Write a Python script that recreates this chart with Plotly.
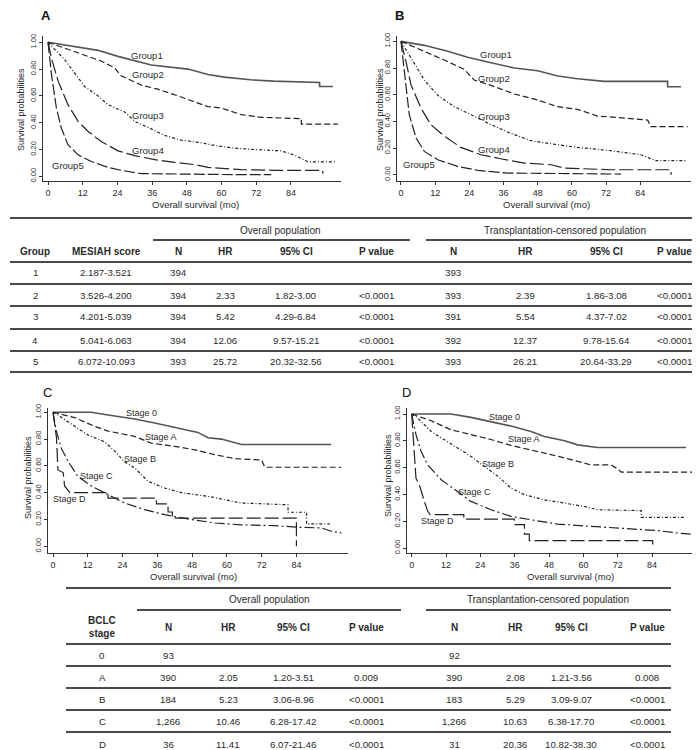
import plotly.graph_objects as go

# ---------------- data: panel A (MESIAH groups, overall population) ----------------
A_G1_T = [0, 9.2, 17.3, 24.2, 35.7, 48.4, 55.3, 61, 70, 78, 93.9, 93.9, 98.5]
A_G1_S = [1.0, 0.97, 0.94, 0.895, 0.83, 0.80, 0.76, 0.74, 0.72, 0.71, 0.70, 0.67, 0.67]
A_G2_T = [0, 9.2, 18.4, 23, 25.3, 32.3, 38, 44.9, 50.7, 55.3, 59.9, 66.8, 73.7, 84.1, 87.6, 87.6, 100.2]
A_G2_S = [1.0, 0.93, 0.86, 0.81, 0.75, 0.68, 0.65, 0.60, 0.555, 0.52, 0.51, 0.46, 0.44, 0.43, 0.43, 0.39, 0.39]
A_G3_T = [0, 5.8, 9.2, 12.7, 17.3, 20.7, 26.5, 30, 34.6, 40.3, 46, 53, 57.6, 64.5, 71.4, 80.6, 85, 90, 99.7]
A_G3_S = [1.0, 0.87, 0.77, 0.67, 0.60, 0.535, 0.48, 0.41, 0.365, 0.305, 0.27, 0.25, 0.23, 0.21, 0.20, 0.19, 0.16, 0.107, 0.107]
A_G4_T = [0, 1.2, 3.5, 6.9, 10.4, 13.8, 18.4, 24.2, 30, 36.9, 43.8, 50.7, 55.3, 66.8, 78.3, 95, 95]
A_G4_S = [1.0, 0.88, 0.71, 0.535, 0.41, 0.336, 0.26, 0.19, 0.154, 0.124, 0.104, 0.087, 0.067, 0.05, 0.045, 0.045, 0.02]
A_G5_T = [0, 1.2, 2.9, 4.6, 6.9, 10.4, 15, 20.7, 25.3, 32.3, 66.8, 77.2]
A_G5_S = [1.0, 0.76, 0.51, 0.36, 0.236, 0.16, 0.11, 0.067, 0.045, 0.02, 0.012, 0.012]

# ---------------- data: panel B (MESIAH groups, transplantation-censored) ----------------
B_G1_T = [0, 8.2, 16.4, 23.4, 31.6, 39.8, 48, 55, 62, 71.4, 93.6, 93.6, 98.3]
B_G1_S = [1.0, 0.97, 0.925, 0.88, 0.84, 0.80, 0.78, 0.74, 0.72, 0.70, 0.70, 0.66, 0.66]
B_G2_T = [0, 8.2, 15.2, 22.2, 25.7, 31.6, 39.8, 48, 55, 62, 69, 78.4, 86.6, 87.7, 100.6]
B_G2_S = [1.0, 0.925, 0.86, 0.79, 0.71, 0.67, 0.605, 0.56, 0.51, 0.49, 0.44, 0.425, 0.41, 0.36, 0.36]
B_G3_T = [0, 3.5, 8.2, 12.9, 18.7, 24.6, 31.6, 37.4, 45.6, 55, 62, 73.7, 84.2, 89.5, 100]
B_G3_S = [1.0, 0.875, 0.71, 0.595, 0.51, 0.45, 0.375, 0.32, 0.255, 0.225, 0.205, 0.18, 0.15, 0.105, 0.105]
B_G4_T = [0, 1.75, 3.5, 7, 10.5, 15.2, 21, 28, 35, 43.3, 52.7, 57.3, 73.7, 94.8, 94.8]
B_G4_S = [1.0, 0.85, 0.675, 0.5, 0.375, 0.29, 0.205, 0.15, 0.12, 0.0875, 0.075, 0.05, 0.0375, 0.0375, 0.0]
B_G5_T = [0, 1.2, 2.9, 5.3, 8.2, 12.9, 19.9, 27, 37.4, 77.2]
B_G5_S = [1.0, 0.75, 0.45, 0.275, 0.175, 0.1125, 0.0625, 0.0325, 0.0125, 0.005]

# ---------------- data: panel C (BCLC stage, overall population) ----------------
C_S0_T = [0, 13.2, 19, 28.2, 35.1, 44.3, 50, 53.5, 58.1, 65, 96]
C_S0_S = [1.0, 1.0, 0.98, 0.95, 0.92, 0.88, 0.85, 0.81, 0.80, 0.76, 0.76]
C_SA_T = [0, 7.5, 14.4, 19, 28.2, 33.9, 42, 48.9, 55.8, 62.7, 72, 73.1, 99.5]
C_SA_S = [1.0, 0.96, 0.895, 0.86, 0.82, 0.77, 0.746, 0.72, 0.684, 0.654, 0.644, 0.59, 0.59]
C_SB_T = [0, 1.7, 7.5, 12.1, 17.8, 21.3, 24.7, 28.2, 32.8, 38.5, 44.3, 53.5, 65, 81.1, 81.1, 87.5, 87.5, 95.5]
C_SB_S = [1.0, 0.98, 0.895, 0.83, 0.78, 0.71, 0.63, 0.585, 0.485, 0.435, 0.40, 0.373, 0.323, 0.31, 0.254, 0.254, 0.167, 0.167]
C_SC_T = [0, 1.15, 2.9, 5.2, 8.6, 13.2, 19, 24.7, 31.6, 38.5, 47.8, 55.8, 65, 76.5, 84.6, 92.6, 96.1, 99.5]
C_SC_S = [1.0, 0.86, 0.73, 0.634, 0.52, 0.45, 0.386, 0.323, 0.274, 0.236, 0.2, 0.174, 0.16, 0.154, 0.142, 0.137, 0.112, 0.10]
C_SD_T = [0, 1.2, 1.7, 3.5, 4, 5.8, 19, 19, 35.7, 35.7, 39.7, 39.7, 41.2, 41.2, 84, 84]
C_SD_S = [1.0, 0.81, 0.57, 0.55, 0.45, 0.40, 0.40, 0.36, 0.36, 0.316, 0.316, 0.256, 0.256, 0.21, 0.21, 0.0]

# ---------------- data: panel D (BCLC stage, transplantation-censored) ----------------
D_S0_T = [0, 13.7, 20.7, 27.7, 34.7, 41.7, 46.4, 53.4, 58, 65, 95.9]
D_S0_S = [1.0, 1.0, 0.975, 0.945, 0.91, 0.87, 0.833, 0.80, 0.77, 0.75, 0.75]
D_SA_T = [0, 6.8, 13.7, 20.7, 27.7, 34.7, 41.7, 48.7, 55.7, 62.7, 69.7, 72, 73.2, 100]
D_SA_S = [1.0, 0.95, 0.883, 0.846, 0.81, 0.766, 0.734, 0.697, 0.66, 0.62, 0.62, 0.59, 0.567, 0.567]
D_SB_T = [0, 2.1, 6.8, 11.4, 16.1, 20.7, 25.4, 30.1, 34.7, 39.4, 46.4, 53.4, 60.4, 65, 80.2, 80.2, 95.9]
D_SB_S = [1.0, 0.97, 0.87, 0.81, 0.746, 0.684, 0.61, 0.535, 0.448, 0.398, 0.36, 0.336, 0.31, 0.286, 0.279, 0.229, 0.229]
D_SC_T = [0, 1.5, 3.3, 5.6, 10.3, 16.1, 20.7, 27.7, 34.7, 41.7, 51, 62.7, 76.7, 86, 93, 99.4]
D_SC_S = [1.0, 0.846, 0.72, 0.62, 0.51, 0.423, 0.348, 0.286, 0.236, 0.211, 0.179, 0.162, 0.142, 0.13, 0.112, 0.10]
D_SD_T = [0, 0.9, 1.5, 2.7, 3.3, 4.4, 5.6, 6.5, 18.2, 18.2, 35.9, 35.9, 39.4, 39.4, 41.1, 41.1, 84.2, 84.2]
D_SD_S = [1.0, 0.746, 0.52, 0.47, 0.42, 0.35, 0.274, 0.25, 0.25, 0.216, 0.216, 0.174, 0.174, 0.104, 0.104, 0.055, 0.055, 0.0]

GROUP_NAMES = ["Group1", "Group2", "Group3", "Group4", "Group5"]
STAGE_NAMES = ["Stage 0", "Stage A", "Stage B", "Stage C", "Stage D"]
# curve label anchors (data coords) per panel
A_LABEL_X = [34.2, 34.6, 34.6, 34.6, 6.9]
A_LABEL_Y = [0.903, 0.758, 0.455, 0.191, 0.082]
B_LABEL_X = [33.3, 32.8, 32.8, 32.8, 6.4]
B_LABEL_Y = [0.90, 0.725, 0.4375, 0.1875, 0.08]
C_LABEL_X = [30.5, 37.4, 29.9, 15.0, 5.75]
C_LABEL_Y = [0.995, 0.816, 0.65, 0.527, 0.35]
D_LABEL_X = [32.4, 39.4, 30.0, 21.9, 9.1]
D_LABEL_Y = [0.975, 0.81, 0.627, 0.415, 0.204]

X_TICKS = [0, 12, 24, 36, 48, 60, 72, 84]
Y_TICKS = [0, 0.2, 0.4, 0.6, 0.8, 1.0]
Y_TICK_TEXT = ["0.00", "0.20", "0.40", "0.60", "0.80", "1.00"]

# ---------------- table 1 ----------------
T1_HEAD = ["Group", "MESIAH score", "N", "HR", "95% CI", "P value", "N", "HR", "95% CI", "P value"]
T1_GROUP = ["1", "2", "3", "4", "5"]
T1_SCORE = ["2.187-3.521", "3.526-4.200", "4.201-5.039", "5.041-6.063", "6.072-10.093"]
T1_N_OP = ["394", "394", "394", "394", "393"]
T1_HR_OP = ["", "2.33", "5.42", "12.06", "25.72"]
T1_CI_OP = ["", "1.82-3.00", "4.29-6.84", "9.57-15.21", "20.32-32.56"]
T1_P_OP = ["", "<0.0001", "<0.0001", "<0.0001", "<0.0001"]
T1_N_TC = ["393", "393", "391", "392", "393"]
T1_HR_TC = ["", "2.39", "5.54", "12.37", "26.21"]
T1_CI_TC = ["", "1.86-3.08", "4.37-7.02", "9.78-15.64", "20.64-33.29"]
T1_P_TC = ["", "<0.0001", "<0.0001", "<0.0001", "<0.0001"]

# ---------------- table 2 ----------------
T2_HEAD = ["BCLC<br>stage", "N", "HR", "95% CI", "P value", "N", "HR", "95% CI", "P value"]
T2_STAGE = ["0", "A", "B", "C", "D"]
T2_N_OP = ["93", "390", "184", "1,266", "36"]
T2_HR_OP = ["", "2.05", "5.23", "10.46", "11.41"]
T2_CI_OP = ["", "1.20-3.51", "3.06-8.96", "6.28-17.42", "6.07-21.46"]
T2_P_OP = ["", "0.009", "<0.0001", "<0.0001", "<0.0001"]
T2_N_TC = ["92", "390", "183", "1,266", "31"]
T2_HR_TC = ["", "2.08", "5.29", "10.63", "20.36"]
T2_CI_TC = ["", "1.21-3.56", "3.09-9.07", "6.38-17.70", "10.82-38.30"]
T2_P_TC = ["", "0.008", "<0.0001", "<0.0001", "<0.0001"]

# ---------------- layout helpers ----------------
W, H = 700, 750
FONT = "Liberation Sans, Arial, sans-serif"
TXT = "#2a2a2a"
LINE = "#4a4a4a"


def px(x):
    return x / W


def py(y):
    return 1 - y / H


GROUP_DASHES = ["solid", "6px,3px", "3px,2px,1px,2px", "14px,4px", "11px,3px"]
STAGE_DASHES = ["solid", "6px,3px", "3px,2px,1px,2px", "10px,3px,2px,3px", "14px,4px"]
WIDTHS = [1.6, 1.2, 1.2, 1.2, 1.2]
COLORS = ["#555555", "#222222", "#222222", "#222222", "#222222"]

PANELS = [
    dict(key="", letter="A", bold=True, lx=37.5, ly=7.5,
         dom_x=(35, 333), dom_y=(28, 173), xr=(-1.73, 101.3), yr=(-0.035, 1.047),
         curves=[(A_G1_T, A_G1_S), (A_G2_T, A_G2_S), (A_G3_T, A_G3_S), (A_G4_T, A_G4_S), (A_G5_T, A_G5_S)],
         names=GROUP_NAMES, dashes=GROUP_DASHES, lab_x=A_LABEL_X, lab_y=A_LABEL_Y, lab_size=9.5,
         ytitle=(13, 102), xtitle=(187, 196.5)),
    dict(key="2", letter="B", bold=True, lx=391, ly=7.5,
         dom_x=(389, 683), dom_y=(28, 173), xr=(-1.4, 101.8), yr=(-0.047, 1.04),
         curves=[(B_G1_T, B_G1_S), (B_G2_T, B_G2_S), (B_G3_T, B_G3_S), (B_G4_T, B_G4_S), (B_G5_T, B_G5_S)],
         names=GROUP_NAMES, dashes=GROUP_DASHES, lab_x=B_LABEL_X, lab_y=B_LABEL_Y, lab_size=9.5,
         ytitle=(372, 102), xtitle=(538, 196.5)),
    dict(key="3", letter="C", bold=False, lx=39, ly=384,
         dom_x=(40, 340), dom_y=(400, 545), xr=(-1.73, 101.8), yr=(-0.05, 1.032),
         curves=[(C_S0_T, C_S0_S), (C_SA_T, C_SA_S), (C_SB_T, C_SB_S), (C_SC_T, C_SC_S), (C_SD_T, C_SD_S)],
         names=STAGE_NAMES, dashes=STAGE_DASHES, lab_x=C_LABEL_X, lab_y=C_LABEL_Y, lab_size=9,
         ytitle=(20, 470), xtitle=(185, 568)),
    dict(key="4", letter="D", bold=False, lx=399, ly=384,
         dom_x=(399, 693), dom_y=(400, 545), xr=(-1.64, 101.1), yr=(-0.037, 1.045),
         curves=[(D_S0_T, D_S0_S), (D_SA_T, D_SA_S), (D_SB_T, D_SB_S), (D_SC_T, D_SC_S), (D_SD_T, D_SD_S)],
         names=STAGE_NAMES, dashes=STAGE_DASHES, lab_x=D_LABEL_X, lab_y=D_LABEL_Y, lab_size=9,
         ytitle=(380, 467), xtitle=(562, 568)),
]

fig = go.Figure()
annotations = []
shapes = []
layout_axes = {}

for p in PANELS:
    k = p["key"]
    xa, ya = "x" + k, "y" + k
    for i, (t, s) in enumerate(p["curves"]):
        fig.add_trace(go.Scatter(
            x=t, y=s, mode="lines", xaxis=xa, yaxis=ya, showlegend=False,
            hoverinfo="skip",
            line=dict(color=COLORS[i], width=WIDTHS[i], dash=p["dashes"][i]),
        ))
        annotations.append(dict(
            x=p["lab_x"][i], y=p["lab_y"][i], xref=xa, yref=ya, text=p["names"][i],
            showarrow=False, xanchor="center", yanchor="middle",
            font=dict(family=FONT, size=p["lab_size"], color=TXT),
        ))
    layout_axes["xaxis" + k] = dict(
        domain=[px(p["dom_x"][0]), px(p["dom_x"][1])], range=list(p["xr"]),
        anchor=ya, tickvals=X_TICKS, showline=True, linecolor="#333", linewidth=1,
        ticks="outside", ticklen=3, tickcolor="#333", showgrid=False, zeroline=False,
        automargin=False,
        tickfont=dict(family=FONT, size=9, color=TXT),
    )
    layout_axes["yaxis" + k] = dict(
        domain=[py(p["dom_y"][1]), py(p["dom_y"][0])], range=list(p["yr"]),
        anchor=xa, tickvals=Y_TICKS, ticktext=Y_TICK_TEXT, tickangle=-90,
        showline=True, linecolor="#333", linewidth=1,
        ticks="outside", ticklen=3, tickcolor="#333", showgrid=False, zeroline=False,
        automargin=False,
        tickfont=dict(family=FONT, size=7.5, color=TXT),
    )
    annotations.append(dict(
        x=px(p["ytitle"][0]), y=py(p["ytitle"][1]), xref="paper", yref="paper",
        text="Survival probabilities", textangle=-90, showarrow=False,
        xanchor="center", yanchor="middle",
        font=dict(family=FONT, size=9, color=TXT),
    ))
    annotations.append(dict(
        x=px(p["xtitle"][0]), y=py(p["xtitle"][1]), xref="paper", yref="paper",
        text="Overall survival (mo)", showarrow=False,
        xanchor="center", yanchor="middle",
        font=dict(family=FONT, size=9.5, color=TXT),
    ))
    letter = "<b>%s</b>" % p["letter"] if p["bold"] else p["letter"]
    annotations.append(dict(
        x=px(p["lx"]), y=py(p["ly"]), xref="paper", yref="paper", text=letter,
        showarrow=False, xanchor="center", yanchor="middle",
        font=dict(family=FONT, size=13, color="#111"),
    ))


def hline(x0, x1, y, w=1.8):
    shapes.append(dict(type="line", xref="paper", yref="paper",
                       x0=px(x0), x1=px(x1), y0=py(y), y1=py(y),
                       line=dict(color=LINE, width=w)))


def cell(x, y, text, bold=False, size=9.7):
    annotations.append(dict(
        x=px(x), y=py(y), xref="paper", yref="paper",
        text=("<b>%s</b>" % text) if (bold and text) else text,
        showarrow=False, xanchor="center", yanchor="middle",
        font=dict(family=FONT, size=size, color=TXT),
    ))


# ---------------- table 1 drawing ----------------
T1_COLX = [27, 98, 170, 217, 288, 368, 445, 517, 598, 666]
T1_ROWY = [265, 287, 309, 332, 353]
hline(2, 697, 210)
cell(272, 222, "Overall population", size=10)
cell(557, 222, "Transplantation-censored population", size=10)
hline(145, 402, 232)
hline(418, 697, 232)
for x, h in zip(T1_COLX, T1_HEAD):
    cell(x, 243, h, bold=True, size=10)
hline(2, 697, 254)
t1_cols = [T1_GROUP, T1_SCORE, T1_N_OP, T1_HR_OP, T1_CI_OP, T1_P_OP,
           T1_N_TC, T1_HR_TC, T1_CI_TC, T1_P_TC]
for r, y in enumerate(T1_ROWY):
    for x, col in zip(T1_COLX, t1_cols):
        cell(x, y, col[r])
for y in [276, 298, 321, 343, 364]:
    hline(2, 697, y)

# ---------------- table 2 drawing ----------------
T2_COLX = [94, 160, 220, 285, 358, 446, 507, 563, 639]
T2_ROWY = [647, 669, 691, 713, 736]
hline(58, 663, 580)
cell(261, 591, "Overall population", size=10)
cell(540, 591, "Transplantation-censored population", size=10)
hline(129, 393, 602)
hline(418, 663, 602)
for x, h in zip(T2_COLX, T2_HEAD):
    cell(x, 619, h, bold=True, size=10)
hline(58, 663, 636)
t2_cols = [T2_STAGE, T2_N_OP, T2_HR_OP, T2_CI_OP, T2_P_OP,
           T2_N_TC, T2_HR_TC, T2_CI_TC, T2_P_TC]
for r, y in enumerate(T2_ROWY):
    for x, col in zip(T2_COLX, t2_cols):
        cell(x, y, col[r])
for y in [658, 680, 702, 724, 746]:
    hline(58, 663, y)

fig.update_layout(
    width=W, height=H, margin=dict(l=0, r=0, t=0, b=0),
    paper_bgcolor="white", plot_bgcolor="white",
    font=dict(family=FONT, color=TXT),
    annotations=annotations, shapes=shapes, showlegend=False,
    **layout_axes,
)

fig.write_html("out.html")
